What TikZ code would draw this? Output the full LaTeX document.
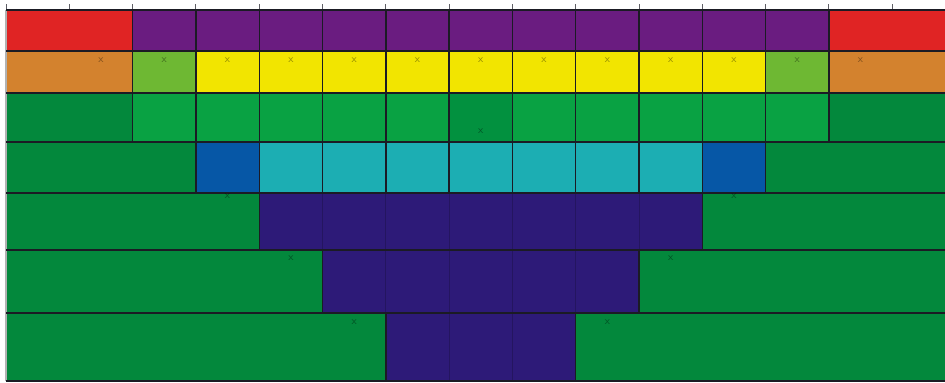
\documentclass[tikz,border=0pt]{standalone}
\usetikzlibrary{calc}
\definecolor{cred}{HTML}{E02424}
\definecolor{cpurple}{HTML}{6A1C80}
\definecolor{corange}{HTML}{D3822E}
\definecolor{clgreen}{HTML}{6EB833}
\definecolor{cyellow}{HTML}{F2E500}
\definecolor{cmgreen}{HTML}{09A243}
\definecolor{cdgreen}{HTML}{03883C}
\definecolor{cmid}{HTML}{02913F}
\definecolor{cblue}{HTML}{0657A6}
\definecolor{ccyan}{HTML}{1CAEB3}
\definecolor{cnavy}{HTML}{2D1A78}
\definecolor{cline}{HTML}{1B1B24}
\newcommand{\blk}[5]{\fill[#5] ({6+63.3*#1},#3) rectangle ({6+63.3*#2},#4);}
\newcommand{\vl}[3]{\draw[gridv] ({6+63.3*#1},#2) -- ({6+63.3*#1},#3);}
\tikzset{
  gridv/.style={draw=cline, line width=0.8pt},
  gridh/.style={draw=cline, line width=1.1pt},
  faint/.style={draw=cnavy!80!black, line width=0.5pt},
  tickmark/.style={draw=cline!70, line width=0.5pt},
  xmark/.style={text=black, text opacity=0.4, font=\sffamily\fontsize{6}{6}\selectfont, inner sep=0pt}
}
\begin{document}
\begin{tikzpicture}[x=0.02cm, y=-0.02cm]
\useasboundingbox (0,0) rectangle (945,382);
\fill[white] (0,0) rectangle (945,382);
% row 1: y 10-51
\blk{0}{2}{10}{51}{cred}
\blk{2}{13}{10}{51}{cpurple}
\blk{13}{15}{10}{51}{cred}
% row 2: y 51-93
\blk{0}{2}{51}{93}{corange}
\blk{2}{3}{51}{93}{clgreen}
\blk{3}{12}{51}{93}{cyellow}
\blk{12}{13}{51}{93}{clgreen}
\blk{13}{15}{51}{93}{corange}
% row 3: y 93-142
\blk{0}{2}{93}{142}{cdgreen}
\blk{2}{13}{93}{142}{cmgreen}
\blk{7}{8}{93}{142}{cmid}
\blk{13}{15}{93}{142}{cdgreen}
% row 4: y 142-193
\blk{0}{3}{142}{193}{cdgreen}
\blk{3}{4}{142}{193}{cblue}
\blk{4}{11}{142}{193}{ccyan}
\blk{11}{12}{142}{193}{cblue}
\blk{12}{15}{142}{193}{cdgreen}
% row 5: y 193-250
\blk{0}{4}{193}{250}{cdgreen}
\blk{4}{11}{193}{250}{cnavy}
\blk{11}{15}{193}{250}{cdgreen}
% row 6: y 250-313
\blk{0}{5}{250}{313}{cdgreen}
\blk{5}{10}{250}{313}{cnavy}
\blk{10}{15}{250}{313}{cdgreen}
% row 7: y 313-381
\blk{0}{6}{313}{381}{cdgreen}
\blk{6}{9}{313}{381}{cnavy}
\blk{9}{15}{313}{381}{cdgreen}
% faint lines inside navy
\foreach \c in {5,...,10} {\draw[faint] ({6+63.3*\c},193) -- ({6+63.3*\c},250);}
\foreach \c in {6,...,9} {\draw[faint] ({6+63.3*\c},250) -- ({6+63.3*\c},313);}
\foreach \c in {7,8} {\draw[faint] ({6+63.3*\c},313) -- ({6+63.3*\c},381);}
% top ticks
\foreach \c in {0,...,14} {\draw[tickmark] ({6+63.3*\c},4) -- ({6+63.3*\c},10);}
% vertical grid lines
\foreach \c in {2,...,13} {\vl{\c}{10}{142}}
\foreach \c in {3,...,12} {\vl{\c}{142}{193}}
\vl{4}{193}{250} \vl{11}{193}{250}
\vl{5}{250}{313} \vl{10}{250}{313}
\vl{6}{313}{381} \vl{9}{313}{381}
\draw[draw=gray!60, line width=0.6pt] (6,10) -- (6,381);
% horizontal lines
\foreach \y in {10,51,93,142,193,250,313,381} {\draw[gridh] (6,\y) -- (945,\y);}
% x marks
\foreach \c [count=\i] in {1,...,13} {\node[xmark] (mr\i) at ({6+63.3*(\c+0.5)},60) {x};}
\node[xmark] (m3) at ({6+63.3*7.5},131) {x};
\node[xmark] (m5a) at ({6+63.3*3.5},196) {x};
\node[xmark] (m5b) at ({6+63.3*11.5},196) {x};
\node[xmark] (m6a) at ({6+63.3*4.5},258) {x};
\node[xmark] (m6b) at ({6+63.3*10.5},258) {x};
\node[xmark] (m7a) at ({6+63.3*5.5},322) {x};
\node[xmark] (m7b) at ({6+63.3*9.5},322) {x};
\end{tikzpicture}
\end{document}
